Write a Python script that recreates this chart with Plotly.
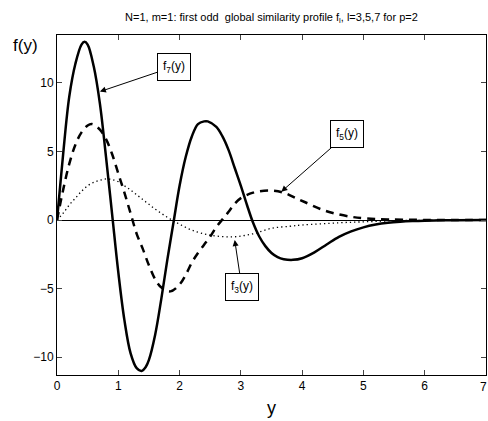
import plotly.graph_objects as go

# f7 (solid)
x7 = [0, 0.05, 0.1, 0.2, 0.3, 0.4, 0.45, 0.5, 0.6, 0.7, 0.8, 0.9, 1.0, 1.1, 1.2, 1.3, 1.38, 1.45,
      1.5, 1.6, 1.7, 1.8, 1.9, 2.0, 2.1, 2.2, 2.3, 2.4, 2.46, 2.6, 2.7, 2.8, 2.9, 3.0, 3.1, 3.2,
      3.3, 3.4, 3.5, 3.6, 3.7, 3.85, 4.0, 4.2, 4.4, 4.6, 4.8, 5.0, 5.2, 5.4, 5.6, 5.8, 6.0, 6.5, 7.0]
y7 = [0, 2.4, 4.8, 9.0, 11.4, 12.8, 13.0, 12.8, 11.2, 8.5, 4.6, 0.4, -3.8, -7.3, -9.7, -10.8, -11.0, -10.7,
      -10.2, -8.4, -5.8, -2.9, -0.2, 2.5, 4.6, 6.1, 7.0, 7.2, 7.2, 6.8, 6.1, 5.1, 3.8, 2.5, 1.1, -0.2,
      -1.2, -1.9, -2.4, -2.7, -2.85, -2.9, -2.78, -2.35, -1.78, -1.22, -0.82, -0.53, -0.33, -0.2, -0.12,
      -0.07, -0.04, -0.01, 0]

# f5 (dashed)
x5 = [0, 0.1, 0.2, 0.3, 0.4, 0.5, 0.57, 0.7, 0.8, 0.9, 1.0, 1.1, 1.2, 1.3, 1.4, 1.5, 1.6, 1.7, 1.85,
      2.0, 2.1, 2.2, 2.3, 2.4, 2.5, 2.6, 2.7, 2.8, 2.9, 3.0, 3.2, 3.47, 3.7, 3.9, 4.05, 4.3, 4.5, 4.8,
      5.05, 5.4, 6.0, 7.0]
y5 = [0, 2.2, 4.1, 5.5, 6.4, 6.9, 7.0, 6.6, 5.9, 4.8, 3.4, 2.0, 0.5, -1.0, -2.1, -3.3, -4.3, -4.9, -5.2,
      -4.7, -4.0, -3.1, -2.4, -1.8, -1.2, -0.5, 0.05, 0.6, 1.2, 1.6, 2.0, 2.15, 2.0, 1.6, 1.3, 0.8, 0.52, 0.24,
      0.12, 0.05, 0.01, 0]

# f3 (dotted)
x3 = [0, 0.1, 0.2, 0.3, 0.4, 0.5, 0.6, 0.7, 0.8, 0.9, 1.0, 1.1, 1.2, 1.3, 1.4, 1.5, 1.6, 1.7, 1.8, 1.9,
      2.0, 2.2, 2.5, 2.88, 3.2, 3.5, 3.8, 4.0, 4.6, 5.05, 5.5, 6.0, 7.0]
y3 = [0, 0.5, 1.1, 1.6, 2.1, 2.5, 2.75, 2.9, 3.0, 2.95, 2.8, 2.5, 2.2, 1.85, 1.5, 1.15, 0.8, 0.5, 0.2, -0.05,
      -0.3, -0.73, -1.1, -1.22, -1.0, -0.6, -0.45, -0.36, -0.2, -0.12, -0.05, -0.01, 0]

x_ticks = [0, 1, 2, 3, 4, 5, 6, 7]
x_labels = ["0", "1", "2", "3", "4", "5", "6", ""]
last_x_label = "7"
y_ticks = [-10, -5, 0, 5, 10]

FONT = "Liberation Sans, Arial, sans-serif"

fig = go.Figure()
fig.add_trace(go.Scatter(x=x3, y=y3, mode="lines",
                         line=dict(color="black", width=1.3, dash="1.3px,3px", shape="spline"),
                         showlegend=False))
fig.add_trace(go.Scatter(x=x5, y=y5, mode="lines",
                         line=dict(color="black", width=2.5, dash="8px,6px", shape="spline"),
                         showlegend=False))
fig.add_trace(go.Scatter(x=x7, y=y7, mode="lines",
                         line=dict(color="black", width=2.5, shape="spline"),
                         showlegend=False))

ann_common = dict(xref="x", yref="y", showarrow=True, arrowhead=2, arrowsize=1.2, arrowwidth=1,
                  arrowcolor="black", bordercolor="black", borderwidth=1, borderpad=5,
                  bgcolor="white", font=dict(family=FONT, size=12, color="black"))
fig.add_annotation(x=0.70, y=9.37, ax=74, ay=-25, text="f<sub>7</sub>(y)", **ann_common)
fig.add_annotation(x=3.66, y=2.07, ax=66, ay=-58, text="f<sub>5</sub>(y)", **ann_common)
fig.add_annotation(x=2.90, y=-1.46, ax=7, ay=47, text="f<sub>3</sub>(y)", **ann_common)

fig.add_annotation(xref="paper", yref="paper", x=-0.074, y=0.97, xanchor="center", yanchor="middle",
                   text="f(y)", showarrow=False, font=dict(family=FONT, size=17, color="black"))
fig.add_annotation(xref="paper", yref="paper", x=0.5, y=-0.097, xanchor="center", yanchor="middle",
                   text="y", showarrow=False, font=dict(family=FONT, size=18, color="black"))
# last x tick label, kept inside the page
fig.add_annotation(xref="paper", yref="paper", x=1, y=-0.035, xanchor="right", yanchor="middle",
                   xshift=2, borderpad=0, text=last_x_label, showarrow=False,
                   font=dict(family=FONT, size=12, color="black"))

fig.update_layout(
    width=488, height=421,
    margin=dict(l=57, r=2, t=35, b=46),
    paper_bgcolor="white", plot_bgcolor="white",
    font=dict(family=FONT, size=12, color="black"),
    title=dict(text="N=1, m=1: first odd  global similarity profile f<sub>l</sub>, l=3,5,7 for p=2",
               x=0.5, xref="paper", xanchor="center", y=0.96, yanchor="middle",
               font=dict(family=FONT, size=11, color="black")),
    xaxis=dict(range=[0, 7], tickvals=x_ticks, ticktext=x_labels, ticks="inside", ticklen=5,
               showline=True, mirror="ticks",
               linecolor="black", linewidth=1, showgrid=False, zeroline=False),
    yaxis=dict(range=[-11.3, 13.5], tickvals=y_ticks, ticks="inside", ticklen=5, showline=True, mirror="ticks",
               linecolor="black", linewidth=1, showgrid=False, zeroline=True, zerolinecolor="black",
               zerolinewidth=1, tickformat="d"),
)

fig.write_html("out.html", config={"displayModeBar": False},
               post_script="document.body.style.margin='0';document.body.style.overflow='hidden';")
